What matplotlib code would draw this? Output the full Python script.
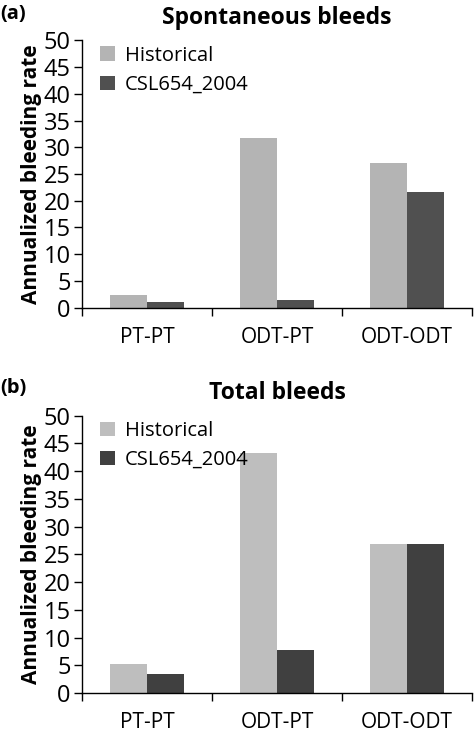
import numpy as np
import matplotlib
matplotlib.use("Agg")
import matplotlib.pyplot as plt

categories = ["PT-PT", "ODT-PT", "ODT-ODT"]
series_names = ["Historical", "CSL654_2004"]

spont_historical = [2.3, 31.7, 27.0]
spont_csl = [1.1, 1.5, 21.7]

total_historical = [5.2, 43.2, 26.9]
total_csl = [3.4, 7.8, 26.8]

plt.rcParams["font.family"] = ["Open Sans", "DejaVu Sans"]


def draw_panel(ax, hist, csl, title, tag, light, dark):
    x = np.arange(len(categories)) + 0.5
    w = 0.285
    ax.bar(x - w / 2, hist, width=w, color=light, label=series_names[0])
    ax.bar(x + w / 2, csl, width=w, color=dark, label=series_names[1])
    ax.set_xlim(0, 3)
    ax.set_ylim(0, 50)
    ax.set_yticks(range(0, 51, 5))
    ax.set_xticks([0, 1, 2, 3])
    ax.set_xticklabels([])
    ax.set_xticks(x, minor=True)
    ax.set_xticklabels(categories, minor=True, fontsize=15)
    ax.tick_params(axis="x", which="minor", length=0, pad=14)
    ax.tick_params(axis="x", which="major", length=6, direction="out", width=1)
    ax.tick_params(axis="y", labelsize=17, length=6, width=1, pad=2)
    for s in ["top", "right"]:
        ax.spines[s].set_visible(False)
    ax.spines["left"].set_linewidth(1)
    ax.spines["bottom"].set_linewidth(1)
    ax.set_ylabel("Annualized bleeding rate", fontsize=15, fontweight="bold", labelpad=1)
    ax.set_title(title, fontsize=16.5, fontweight="bold", pad=12)
    ax.legend(loc="upper left", frameon=False, fontsize=14.5, handlelength=0.75,
              handleheight=0.75, handletextpad=0.5, borderaxespad=0.0,
              bbox_to_anchor=(0.025, 1.01), labelspacing=0.45)
    ax.text(-0.21, 1.1, tag, transform=ax.transAxes, fontsize=14.5,
            fontweight="bold", va="center", ha="left")


fig = plt.figure(figsize=(4.75, 7.36), dpi=100)
ax1 = fig.add_axes([0.1726, 0.582, 0.821, 0.363])
ax2 = fig.add_axes([0.1726, 0.0584, 0.821, 0.3768])

draw_panel(ax1, spont_historical, spont_csl, "Spontaneous bleeds", "(a)", "#b4b4b4", "#505050")
draw_panel(ax2, total_historical, total_csl, "Total bleeds", "(b)", "#bebebe", "#404040")

fig.savefig("out.png", dpi=100)
